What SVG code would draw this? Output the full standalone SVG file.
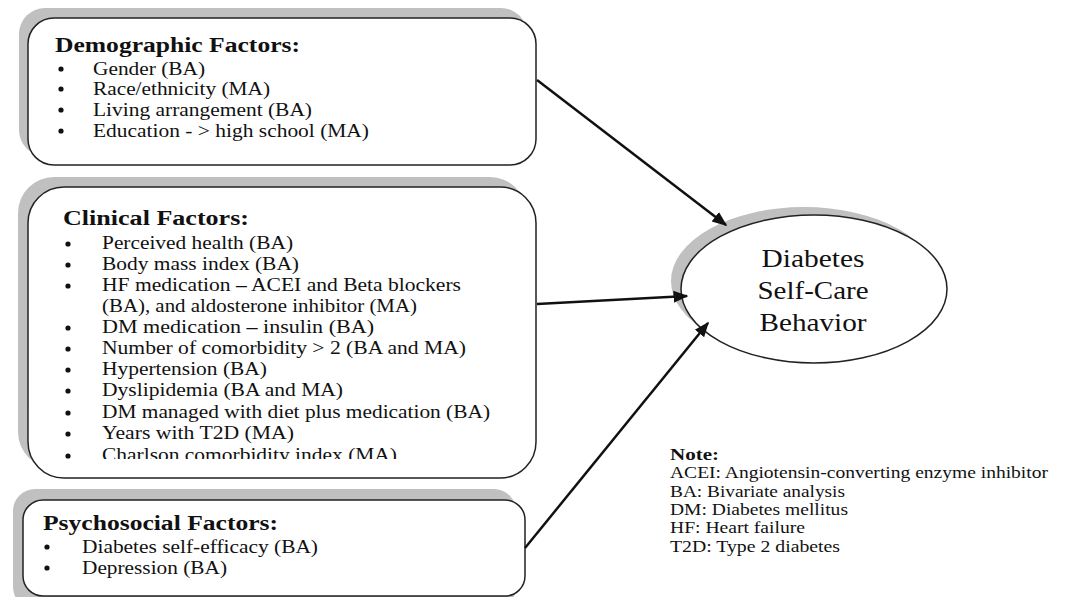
<svg xmlns="http://www.w3.org/2000/svg" width="1065" height="597" viewBox="0 0 1065 597">
  <style>
    .shadow { fill: #c0c0c0; }
    .box { fill: #ffffff; stroke: #222222; stroke-width: 1.5; }
    text { font-family: "Liberation Serif", "Times New Roman", serif; fill: #111111; }
    .title { font-weight: bold; font-size: 20px; }
    .item { font-size: 18px; }
    .dot { fill: #111111; }
    .center { font-size: 26px; text-anchor: middle; }
    .note-title { font-weight: bold; font-size: 17px; }
    .note { font-size: 16.5px; }
    .link { stroke: #111111; stroke-width: 2.5; fill: none; marker-end: url(#arrow); }
  </style>
  <defs>
    <marker id="arrow" viewBox="0 0 10 10" refX="9" refY="5" markerWidth="6" markerHeight="6" markerUnits="strokeWidth" orient="auto">
      <path d="M0,1 L10,5 L0,9 z" fill="#111111"/>
    </marker>
    <clipPath id="clinical-clip">
      <rect x="28" y="187" width="508" height="272"/>
    </clipPath>
  </defs>

  <rect width="1065" height="597" fill="#ffffff"/>

  <!-- Demographic factors -->
  <g id="demographic">
    <rect class="shadow" x="19" y="8" width="508" height="148" rx="26"/>
    <rect class="box" x="28" y="18" width="508" height="147" rx="26"/>
    <text class="title" x="55" y="52" textLength="245" lengthAdjust="spacingAndGlyphs">Demographic Factors:</text>
    <circle class="dot" cx="61" cy="69" r="2.6"/>
    <circle class="dot" cx="61" cy="89" r="2.6"/>
    <circle class="dot" cx="61" cy="110" r="2.6"/>
    <circle class="dot" cx="61" cy="131" r="2.6"/>
    <text class="item" x="93" y="75" textLength="112" lengthAdjust="spacingAndGlyphs">Gender (BA)</text>
    <text class="item" x="93" y="95" textLength="177" lengthAdjust="spacingAndGlyphs">Race/ethnicity (MA)</text>
    <text class="item" x="93" y="116" textLength="219" lengthAdjust="spacingAndGlyphs">Living arrangement (BA)</text>
    <text class="item" x="93" y="137" textLength="276" lengthAdjust="spacingAndGlyphs">Education - &gt; high school (MA)</text>
  </g>

  <!-- Clinical factors -->
  <g id="clinical">
    <rect class="shadow" x="18" y="177" width="508" height="291" rx="36"/>
    <rect class="box" x="28" y="187" width="508" height="291" rx="36"/>
    <text class="title" x="63" y="225" textLength="186" lengthAdjust="spacingAndGlyphs">Clinical Factors:</text>
    <g clip-path="url(#clinical-clip)">
      <circle class="dot" cx="68" cy="244" r="2.6"/>
      <circle class="dot" cx="68" cy="265" r="2.6"/>
      <circle class="dot" cx="68" cy="286" r="2.6"/>
      <circle class="dot" cx="68" cy="328" r="2.6"/>
      <circle class="dot" cx="68" cy="349" r="2.6"/>
      <circle class="dot" cx="68" cy="370" r="2.6"/>
      <circle class="dot" cx="68" cy="391" r="2.6"/>
      <circle class="dot" cx="68" cy="413" r="2.6"/>
      <circle class="dot" cx="68" cy="434" r="2.6"/>
      <circle class="dot" cx="68" cy="456" r="2.6"/>
      <text class="item" x="102" y="249" textLength="191" lengthAdjust="spacingAndGlyphs">Perceived health (BA)</text>
      <text class="item" x="102" y="270" textLength="197" lengthAdjust="spacingAndGlyphs">Body mass index (BA)</text>
      <text class="item" x="102" y="291" textLength="359" lengthAdjust="spacingAndGlyphs">HF medication <tspan font-weight="bold">–</tspan> ACEI and Beta blockers</text>
      <text class="item" x="102" y="312" textLength="315" lengthAdjust="spacingAndGlyphs">(BA), and aldosterone inhibitor (MA)</text>
      <text class="item" x="102" y="333" textLength="272" lengthAdjust="spacingAndGlyphs">DM medication <tspan font-weight="bold">–</tspan> insulin (BA)</text>
      <text class="item" x="102" y="354" textLength="364" lengthAdjust="spacingAndGlyphs">Number of comorbidity &gt; 2 (BA and MA)</text>
      <text class="item" x="102" y="375" textLength="165" lengthAdjust="spacingAndGlyphs">Hypertension (BA)</text>
      <text class="item" x="102" y="396" textLength="241" lengthAdjust="spacingAndGlyphs">Dyslipidemia (BA and MA)</text>
      <text class="item" x="102" y="418" textLength="388" lengthAdjust="spacingAndGlyphs">DM managed with diet plus medication (BA)</text>
      <text class="item" x="102" y="439" textLength="192" lengthAdjust="spacingAndGlyphs">Years with T2D (MA)</text>
      <text class="item" x="102" y="461" textLength="295" lengthAdjust="spacingAndGlyphs">Charlson comorbidity index (MA)</text>
    </g>
  </g>

  <!-- Psychosocial factors -->
  <g id="psychosocial">
    <rect class="shadow" x="13" y="489" width="503" height="120" rx="22"/>
    <rect class="box" x="23" y="500" width="502" height="96" rx="20"/>
    <text class="title" x="43" y="530" textLength="235" lengthAdjust="spacingAndGlyphs">Psychosocial Factors:</text>
    <circle class="dot" cx="47" cy="547" r="2.6"/>
    <circle class="dot" cx="47" cy="568" r="2.6"/>
    <text class="item" x="82" y="553" textLength="236" lengthAdjust="spacingAndGlyphs">Diabetes self-efficacy (BA)</text>
    <text class="item" x="82" y="574" textLength="145" lengthAdjust="spacingAndGlyphs">Depression (BA)</text>
  </g>

  <!-- Outcome -->
  <g id="outcome">
    <ellipse class="shadow" cx="804" cy="281" rx="133" ry="74"/>
    <ellipse class="box" cx="814" cy="289" rx="133" ry="74"/>
    <text class="center" x="813" y="267" textLength="103" lengthAdjust="spacingAndGlyphs">Diabetes</text>
    <text class="center" x="813" y="299" textLength="111" lengthAdjust="spacingAndGlyphs">Self-Care</text>
    <text class="center" x="813" y="331" textLength="107" lengthAdjust="spacingAndGlyphs">Behavior</text>
  </g>

  <!-- Note -->
  <g id="note">
    <text class="note-title" x="670" y="460" textLength="49" lengthAdjust="spacingAndGlyphs">Note:</text>
    <text class="note" x="670" y="478" textLength="378" lengthAdjust="spacingAndGlyphs">ACEI: Angiotensin-converting enzyme inhibitor</text>
    <text class="note" x="670" y="497" textLength="175" lengthAdjust="spacingAndGlyphs">BA: Bivariate analysis</text>
    <text class="note" x="670" y="515" textLength="178" lengthAdjust="spacingAndGlyphs">DM: Diabetes mellitus</text>
    <text class="note" x="670" y="533" textLength="135" lengthAdjust="spacingAndGlyphs">HF: Heart failure</text>
    <text class="note" x="670" y="552" textLength="170" lengthAdjust="spacingAndGlyphs">T2D: Type 2 diabetes</text>
  </g>

  <!-- Connectors -->
  <g id="connectors">
    <line class="link" x1="537" y1="80" x2="726" y2="225"/>
    <line class="link" x1="537" y1="304" x2="687" y2="296"/>
    <line class="link" x1="525" y1="548" x2="708" y2="323"/>
  </g>
</svg>
